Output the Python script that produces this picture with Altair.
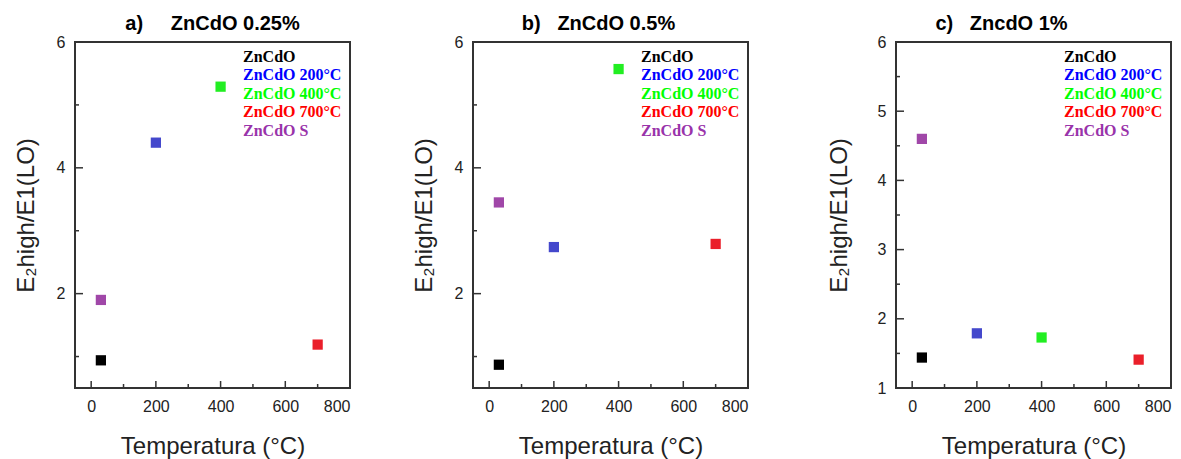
import altair as alt
import pandas as pd

# ---- data ----
series = ["ZnCdO", "ZnCdO 200°C", "ZnCdO 400°C", "ZnCdO 700°C", "ZnCdO S"]
temps = [30, 200, 400, 700, 30]
vals_a = [0.94, 4.40, 5.29, 1.19, 1.90]
vals_b = [0.87, 2.74, 5.57, 2.79, 3.45]
vals_c = [1.44, 1.79, 1.73, 1.41, 4.60]
marker_colors = ["#000000", "#4448cc", "#22ee22", "#ea1f2a", "#a047a8"]
text_colors = ["#000000", "#0000ff", "#00ff00", "#ff0000", "#9933aa"]

titles = ["a)\u00a0\u00a0\u00a0\u00a0\u00a0ZnCdO 0.25%",
          "b)\u00a0\u00a0\u00a0ZnCdO 0.5%",
          "c)\u00a0\u00a0\u00a0ZncdO 1%"]

x_major = [0, 200, 400, 600, 800]
x_minor = [100, 300, 500, 700]
y_major_ab = [2, 4, 6]
y_minor_ab = [1, 3, 5]
y_major_c = [1, 2, 3, 4, 5, 6]
y_minor_c = [1.5, 2.5, 3.5, 4.5, 5.5]

X_DOM = [-50, 800]
W, H = 275, 346
FONT = "Liberation Sans"
AX = "#222222"


def panel(vals, title, ydom, ymaj, ymin, title_pad=18, title_dx=0):
    df = pd.DataFrame({"T": temps, "v": vals, "mc": marker_colors, "s": series})
    xs = alt.Scale(domain=X_DOM, nice=False, zero=False)
    ys = alt.Scale(domain=ydom, nice=False, zero=False)
    xaxis = alt.Axis(values=x_major, ticks=False, domain=False, grid=False,
                     labelPadding=10, title="Temperatura (°C)", titlePadding=20)

    pts = alt.Chart(df).mark_square(size=105, opacity=1).encode(
        x=alt.X("T:Q", scale=xs, axis=xaxis),
        y=alt.Y("v:Q", scale=ys,
                axis=alt.Axis(values=ymaj, ticks=False, domain=False,
                              grid=False, labelPadding=10, title="E\u2082high/E1(LO)",
                              titlePadding=title_pad)),
        color=alt.Color("mc:N", scale=None),
    )

    def xt(vs, ln):
        return alt.Chart(pd.DataFrame({"T": vs})).mark_rule(color="#333333", strokeWidth=1.5).encode(
            x=alt.X("T:Q", scale=xs, axis=xaxis),
            y=alt.value(H - ln), y2=alt.value(H))

    def yt(vs, ln):
        return alt.Chart(pd.DataFrame({"t": vs})).mark_rule(color="#333333", strokeWidth=1.5).encode(
            y=alt.Y("t:Q", scale=ys, axis=None),
            x=alt.value(0), x2=alt.value(ln))

    leg_df = pd.DataFrame({"name": series, "tc": text_colors, "i": list(range(len(series)))})
    leg = alt.Chart(leg_df).mark_text(align="left", baseline="middle", font="Liberation Serif",
                                      fontWeight="bold", fontSize=16).encode(
        x=alt.value(168),
        y=alt.Y("i:Q", scale=alt.Scale(domain=[0, 4], range=[14.5, 88.5]), axis=None),
        text="name:N",
        color=alt.Color("tc:N", scale=None),
    )

    return alt.layer(pts, xt(x_major, 7), xt(x_minor, 4), yt(ymaj, 8), yt(ymin, 4), leg).resolve_scale(
        y="independent").properties(
        width=W, height=H,
        title=alt.TitleParams(title, font=FONT, fontSize=20, fontWeight="bold", color="#000000",
                              anchor="middle", offset=0, dx=title_dx))


a = panel(vals_a, titles[0], [0.5, 6], y_major_ab, y_minor_ab)
b = panel(vals_b, titles[1], [0.5, 6], y_major_ab, y_minor_ab, title_dx=-12)
c = panel(vals_c, titles[2], [1, 6], y_major_c, y_minor_c, title_pad=26, title_dx=-32)

chart = alt.hconcat(alt.hconcat(a, b, spacing=59), c, spacing=76).configure_view(
    stroke="#333333", strokeWidth=2
).configure_axis(
    labelFont=FONT, labelFontSize=16, labelColor=AX,
    titleFont=FONT, titleFontSize=24, titleColor=AX, titleFontWeight="normal"
).properties(padding={"left": 5, "top": 5, "right": 0, "bottom": 0}, background="white")

chart.save("out.html", embed_options={"renderer": "svg", "actions": False})
